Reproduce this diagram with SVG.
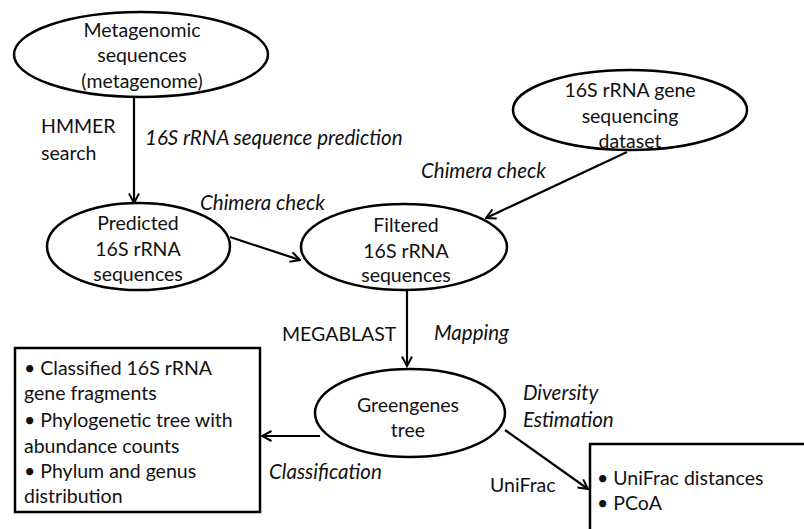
<svg xmlns="http://www.w3.org/2000/svg" width="804" height="529" viewBox="0 0 804 529">
<style>
  text { font-family: Lato, "Open Sans", "Liberation Sans", sans-serif; font-size: 19.5px; fill: #111; }
  .c { text-anchor: middle; }
  .i { font-style: italic; font-size: 20.5px; }
  .node { fill: #fff; stroke: #000; stroke-width: 2.5; }
  .edge { fill: none; stroke: #000; stroke-width: 2.2; marker-end: url(#arr); }
</style>
<defs>
  <marker id="arr" viewBox="0 0 12 12" markerWidth="12" markerHeight="12" refX="10.5" refY="6" orient="auto" markerUnits="userSpaceOnUse">
    <path d="M1,1 L10.5,6 L1,11" fill="none" stroke="#000" stroke-width="2"/>
  </marker>
</defs>
<rect width="804" height="529" fill="#fff"/>
<g id="connectors">
  <line class="edge" x1="134" y1="97" x2="134" y2="203"/>
  <line class="edge" x1="230" y1="237" x2="300" y2="260"/>
  <line class="edge" x1="627" y1="152" x2="486" y2="218"/>
  <line class="edge" x1="407" y1="290" x2="407" y2="366"/>
  <line class="edge" x1="320" y1="436" x2="262" y2="436"/>
  <line class="edge" x1="505" y1="430" x2="588" y2="489"/>
</g>
<g id="metagenome">
  <ellipse class="node" cx="141" cy="54.5" rx="127" ry="42.5"/>
  <text class="c" x="142" y="37">Metagenomic</text>
  <text class="c" x="142" y="62">sequences</text>
  <text class="c" x="142" y="88">(metagenome)</text>
</g>
<g id="dataset16s">
  <ellipse class="node" cx="630" cy="110" rx="117" ry="40"/>
  <text class="c" x="630" y="97">16S rRNA gene</text>
  <text class="c" x="630" y="123">sequencing</text>
  <text class="c" x="630" y="148">dataset</text>
</g>
<g id="predicted">
  <ellipse class="node" cx="138.5" cy="246.5" rx="91.5" ry="43.5"/>
  <text class="c" x="138" y="230">Predicted</text>
  <text class="c" x="138" y="256">16S rRNA</text>
  <text class="c" x="138" y="281">sequences</text>
</g>
<g id="filtered">
  <ellipse class="node" cx="404" cy="247" rx="103" ry="43"/>
  <text class="c" x="406" y="232">Filtered</text>
  <text class="c" x="406" y="258">16S rRNA</text>
  <text class="c" x="406" y="282">sequences</text>
</g>
<g id="greengenes">
  <ellipse class="node" cx="410" cy="413" rx="95" ry="44"/>
  <text class="c" x="408" y="412">Greengenes</text>
  <text class="c" x="408" y="437">tree</text>
</g>
<g id="classbox">
  <rect class="node" x="15" y="348" width="245" height="164"/>
  <text x="24" y="375">• Classified 16S rRNA</text>
  <text x="24" y="400">gene fragments</text>
  <text x="24" y="427">• Phylogenetic tree with</text>
  <text x="24" y="453">abundance counts</text>
  <text x="24" y="478">• Phylum and genus</text>
  <text x="24" y="503">distribution</text>
</g>
<g id="unifracbox">
  <rect class="node" x="590" y="444" width="240" height="120"/>
  <text x="597" y="485">• UniFrac distances</text>
  <text x="597" y="510">• PCoA</text>
</g>
<g id="labels">
  <text x="41" y="133">HMMER</text>
  <text x="41" y="160">search</text>
  <text class="i" x="145" y="145">16S rRNA sequence prediction</text>
  <text class="i" x="200" y="210">Chimera check</text>
  <text class="i" x="421" y="178">Chimera check</text>
  <text x="282" y="341">MEGABLAST</text>
  <text class="i" x="434" y="340">Mapping</text>
  <text class="i" x="523" y="400">Diversity</text>
  <text class="i" x="523" y="427">Estimation</text>
  <text x="490" y="492">UniFrac</text>
  <text class="i" x="269" y="479">Classification</text>
</g>
</svg>
